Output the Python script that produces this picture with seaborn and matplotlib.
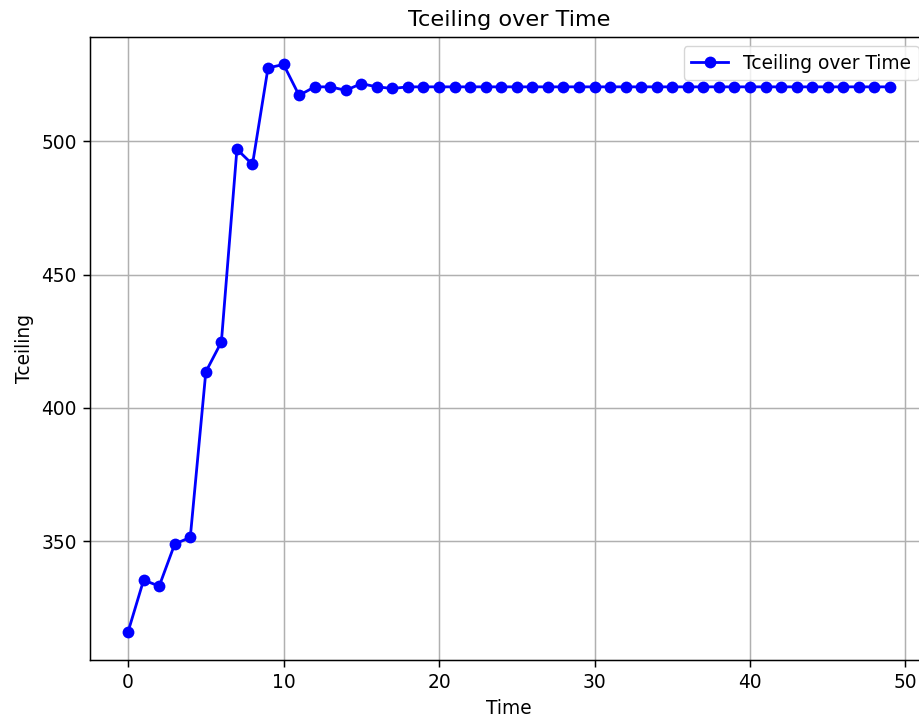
import matplotlib
matplotlib.use("Agg")
import matplotlib.pyplot as plt
import seaborn as sns
import pandas as pd

time = list(range(50))
tceiling = [316.0, 335.4, 333.1, 348.9, 351.4, 413.5, 424.7, 497.0, 491.3, 527.5,
            528.8, 517.2, 520.4, 520.4, 519.1, 521.6, 520.4, 519.8] + [520.4] * 32

df = pd.DataFrame({"Time": time, "Tceiling": tceiling})

s = 1.34
plt.rcParams['font.family'] = ['DejaVu Sans']
plt.rcParams['xtick.major.size'] = 3.5 * s
plt.rcParams['ytick.major.size'] = 3.5 * s
plt.rcParams['xtick.major.pad'] = 3.5 * s
plt.rcParams['ytick.major.pad'] = 3.5 * s
plt.rcParams['xtick.major.width'] = 0.8 * s
plt.rcParams['ytick.major.width'] = 0.8 * s

W, H = 920, 719
fig = plt.figure(figsize=(W / 100, H / 100), dpi=100)
ax = fig.add_axes([90 / W, (H - 660) / H, (928 - 90) / W, (660 - 37) / H])
sns.lineplot(data=df, x="Time", y="Tceiling", ax=ax, color="blue", marker="o",
             markersize=8.5, markeredgewidth=0, linewidth=1.5 * s, label="Tceiling over Time")
ax.grid(True, color="#b0b0b0", linewidth=0.8 * s)
ax.set_axisbelow(True)
ax.set_title("Tceiling over Time", fontsize=12 * s, pad=6 * s)
ax.set_xlabel("Time", fontsize=10 * s, labelpad=4 * s)
ax.set_ylabel("Tceiling", fontsize=10 * s, labelpad=4 * s)
ax.tick_params(labelsize=10 * s)
ax.set_xticks([0, 10, 20, 30, 40, 50])
ax.set_yticks([350, 400, 450, 500])
ax.set_xlim(-2.45, 51.45)
ax.set_ylim(305.4, 539.1)
ax.legend(loc="upper right", fontsize=10 * s)
for sp in ax.spines.values():
    sp.set_linewidth(0.8 * s)
fig.savefig("out.png", dpi=100)
